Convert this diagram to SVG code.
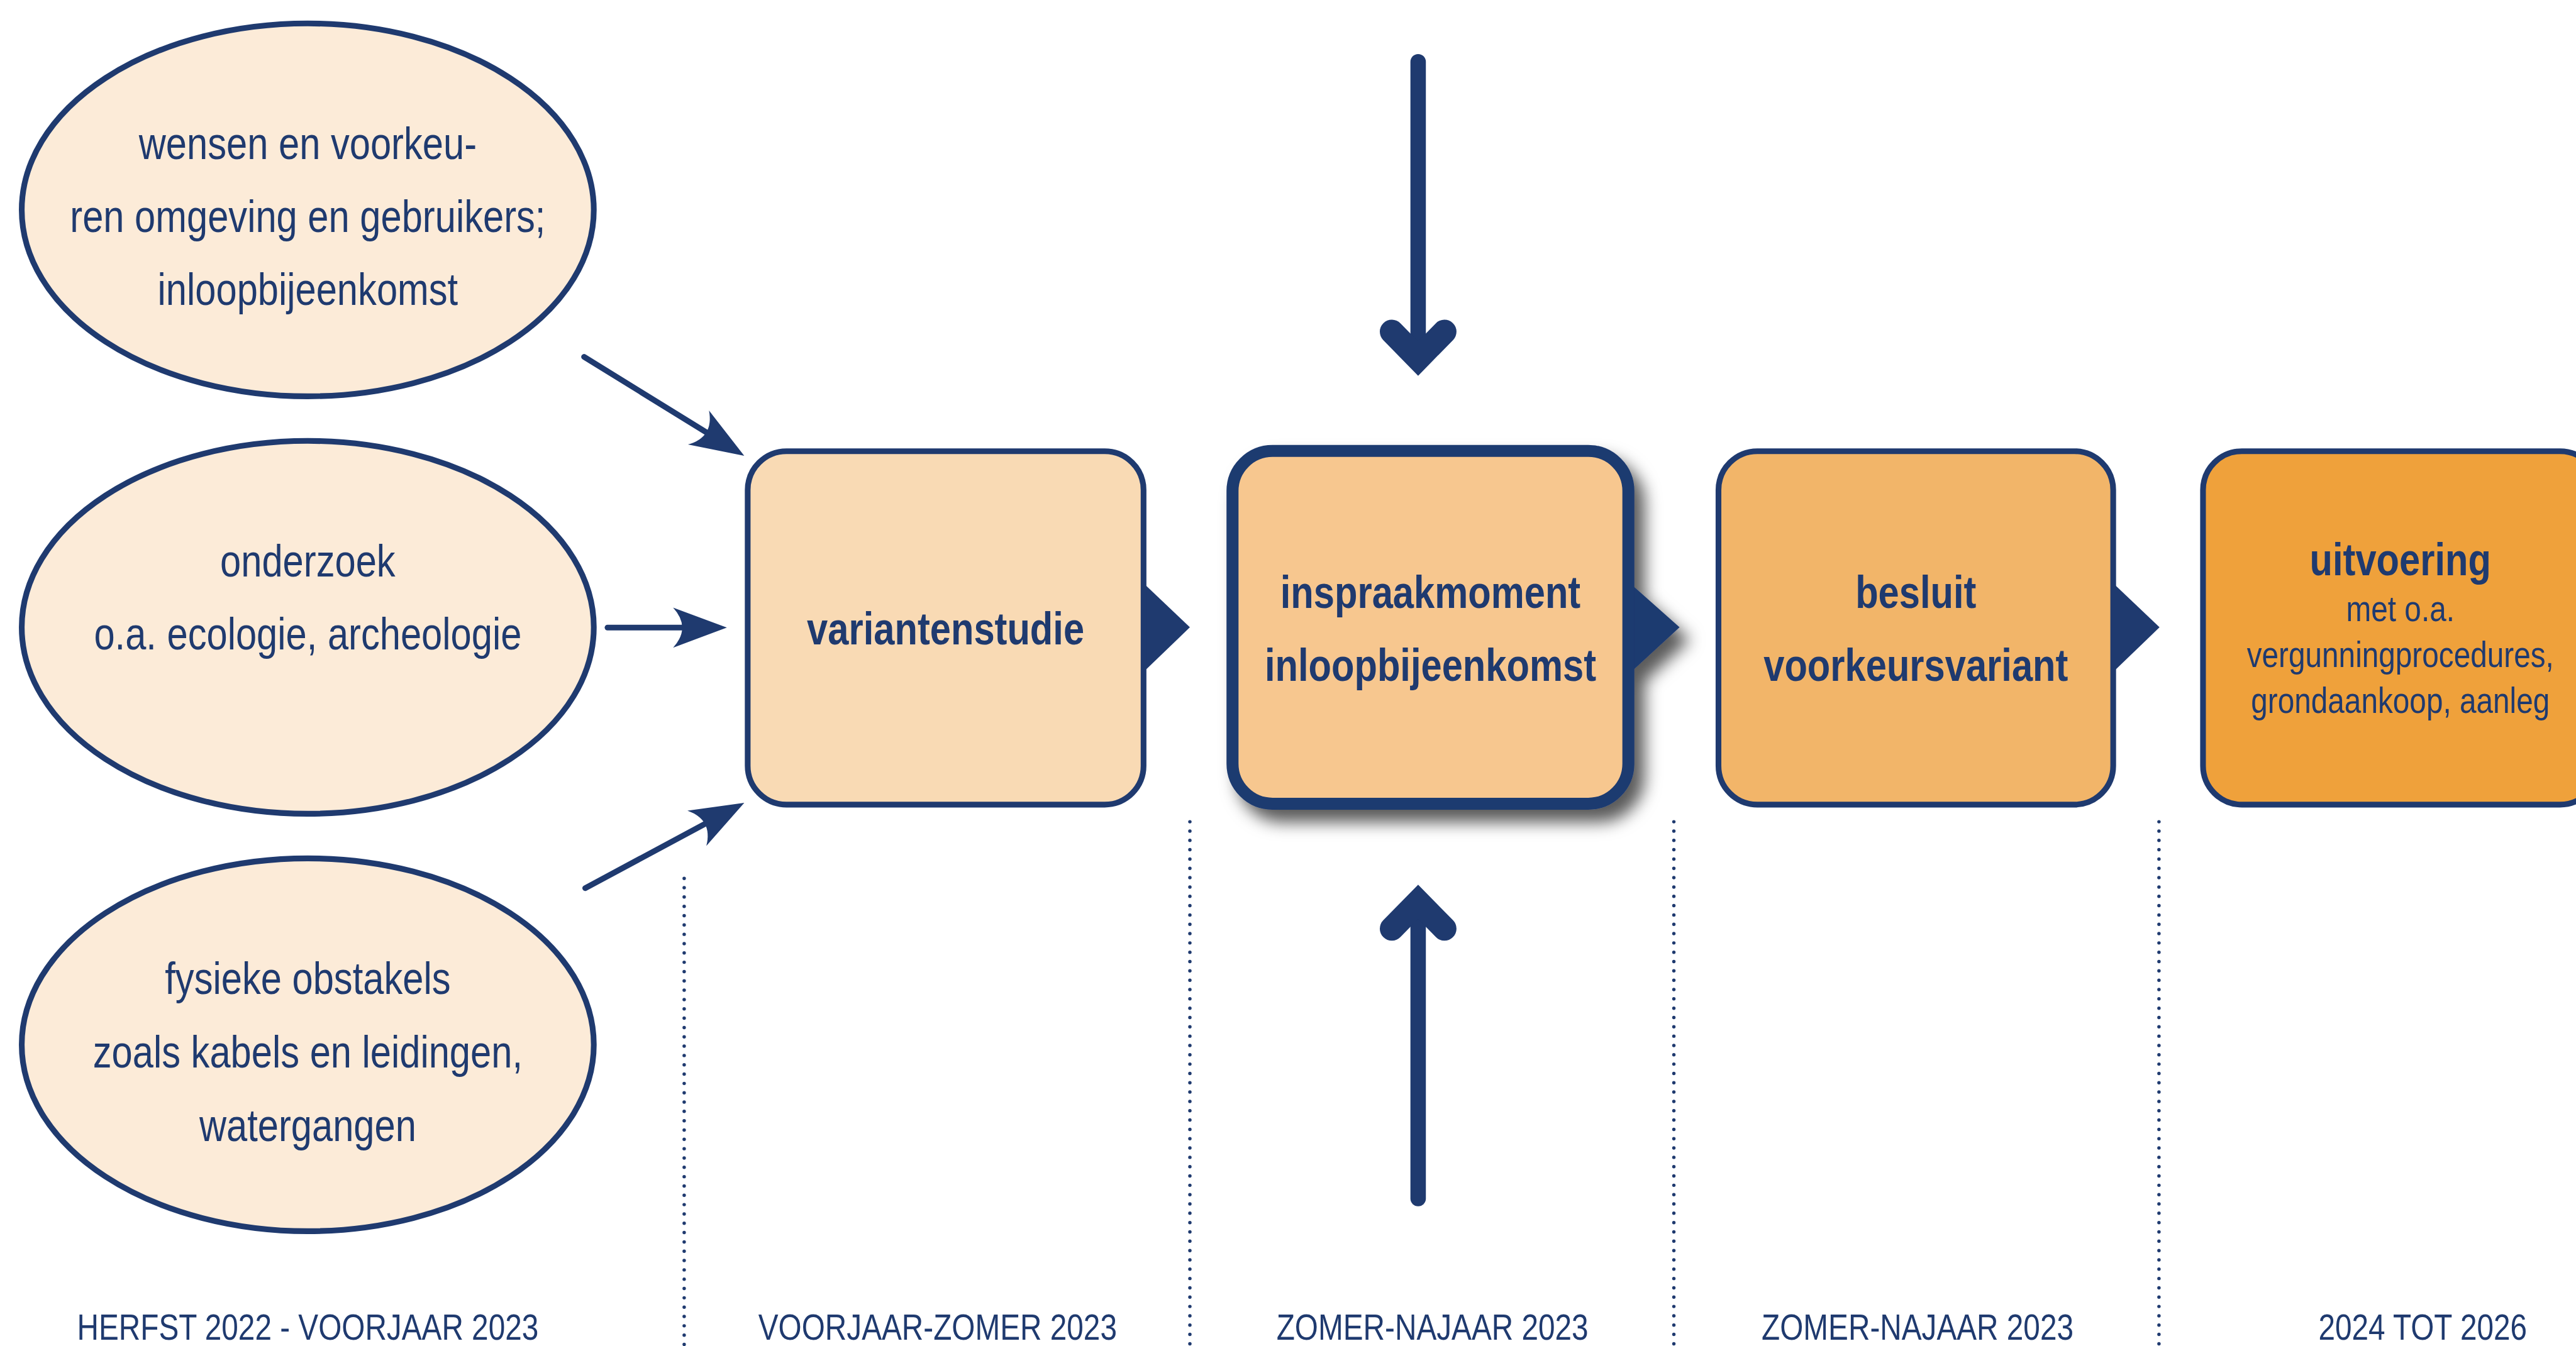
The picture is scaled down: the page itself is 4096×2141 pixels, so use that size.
<svg xmlns="http://www.w3.org/2000/svg" width="4096" height="2141" viewBox="0 0 4096 2141">
<defs>
<style>
.ell{fill:#FCEBD8;stroke:#1F3A6F;stroke-width:10}
.box{stroke:#1F3A6F;stroke-width:10}
.t{font-family:"Liberation Sans",Arial,sans-serif;fill:#1F3A6F;text-anchor:middle}
.r80{font-size:80px}
.b80{font-size:80px;font-weight:bold}
.r64{font-size:64px}
.ln{fill:none;stroke:#1F3A6F;stroke-width:10;stroke-linecap:round}
.dot{fill:none;stroke:#1F3A6F;stroke-width:6;stroke-linecap:round;stroke-dasharray:0 16.3}
.tri{fill:#1F3A6F}
.shaft{fill:none;stroke:#1F3A6F;stroke-width:27;stroke-linecap:round}
.chev{fill:none;stroke:#1F3A6F;stroke-width:42;stroke-linecap:round;stroke-linejoin:miter;stroke-miterlimit:10}
</style>
<marker id="ah" markerUnits="userSpaceOnUse" orient="auto" refX="0" refY="0" markerWidth="120" markerHeight="90" overflow="visible">
<path d="M78,0 L-16,-35 Q16,0 -16,35 Z" fill="#1F3A6F"/>
</marker>
<filter id="sh" x="-20%" y="-20%" width="150%" height="150%">
<feDropShadow dx="18" dy="22" stdDeviation="14" flood-color="#000" flood-opacity="0.65"/>
</filter>
</defs>
<rect width="4096" height="2141" fill="#FFFFFF"/>
<g transform="scale(0.909616)">

<g id="dividers">
<line class="dot" x1="1196" y1="1536" x2="1196" y2="2354"/>
<line class="dot" x1="2080" y1="1437" x2="2080" y2="2354"/>
<line class="dot" x1="2926" y1="1437" x2="2926" y2="2354"/>
<line class="dot" x1="3774" y1="1437" x2="3774" y2="2354"/>
</g>

<g id="node-wensen">
<ellipse class="ell" cx="538" cy="367" rx="500" ry="326"/>
<text class="t r80" transform="translate(538,278) scale(0.82,1)">wensen en voorkeu-</text>
<text class="t r80" transform="translate(538,406) scale(0.82,1)">ren omgeving en gebruikers;</text>
<text class="t r80" transform="translate(538,533) scale(0.82,1)">inloopbijeenkomst</text>
</g>

<g id="node-onderzoek">
<ellipse class="ell" cx="538" cy="1097" rx="500" ry="326"/>
<text class="t r80" transform="translate(538,1008) scale(0.82,1)">onderzoek</text>
<text class="t r80" transform="translate(538,1136) scale(0.82,1)">o.a. ecologie, archeologie</text>
</g>

<g id="node-obstakels">
<ellipse class="ell" cx="538" cy="1827" rx="500" ry="326"/>
<text class="t r80" transform="translate(538,1738) scale(0.82,1)">fysieke obstakels</text>
<text class="t r80" transform="translate(538,1867) scale(0.82,1)">zoals kabels en leidingen,</text>
<text class="t r80" transform="translate(538,1995) scale(0.82,1)">watergangen</text>
</g>

<g id="node-variantenstudie">
<polygon class="tri" points="1999,1020 2080,1097 1999,1175"/>
<rect class="box" x="1307" y="789" width="692" height="618" rx="68" ry="68" fill="#F9DAB4"/>
<text class="t b80" transform="translate(1653,1127) scale(0.82,1)">variantenstudie</text>
</g>

<g id="node-inspraakmoment">
<g filter="url(#sh)">
<polygon class="tri" points="2846,1017 2936,1097 2846,1180"/>
<rect x="2154.5" y="788.5" width="692" height="617" rx="70" ry="70" fill="#F7C78F" stroke="#1F3A6F" stroke-width="21"/>
</g>
<text class="t b80" transform="translate(2500.5,1063) scale(0.82,1)">inspraakmoment</text>
<text class="t b80" transform="translate(2500.5,1190.5) scale(0.82,1)">inloopbijeenkomst</text>
</g>

<g id="node-besluit">
<polygon class="tri" points="3694,1020 3775,1097 3694,1175"/>
<rect class="box" x="3004" y="789" width="690" height="618" rx="68" ry="68" fill="#F2B569"/>
<text class="t b80" transform="translate(3349,1063) scale(0.82,1)">besluit</text>
<text class="t b80" transform="translate(3349,1190.5) scale(0.82,1)">voorkeursvariant</text>
</g>

<g id="node-uitvoering">
<rect class="box" x="3851" y="789" width="692" height="618" rx="68" ry="68" fill="#EFA13B"/>
<text class="t b80" transform="translate(4196,1006) scale(0.82,1)">uitvoering</text>
<text class="t r64" transform="translate(4196,1086) scale(0.82,1)">met o.a.</text>
<text class="t r64" transform="translate(4196,1166) scale(0.82,1)">vergunningprocedures,</text>
<text class="t r64" transform="translate(4196,1247) scale(0.82,1)">grondaankoop, aanleg</text>
</g>

<g id="connectors">
<line class="ln" x1="1021" y1="624" x2="1234.6" y2="756" marker-end="url(#ah)"/>
<line class="ln" x1="1062" y1="1097.5" x2="1192.6" y2="1097.5" marker-end="url(#ah)"/>
<line class="ln" x1="1023" y1="1553" x2="1232.3" y2="1440.8" marker-end="url(#ah)"/>
<g id="arrow-down">
<line class="shaft" x1="2479" y1="108" x2="2479" y2="620"/>
<polyline class="chev" points="2433,580 2479,627 2525,580"/>
</g>
<g id="arrow-up">
<line class="shaft" x1="2479" y1="2096" x2="2479" y2="1585"/>
<polyline class="chev" points="2433,1624 2479,1577 2525,1624"/>
</g>
</g>

<g id="period-labels">
<text class="t r64" transform="translate(538,2343) scale(0.82,1)">HERFST 2022 - VOORJAAR 2023</text>
<text class="t r64" transform="translate(1639,2343) scale(0.82,1)">VOORJAAR-ZOMER 2023</text>
<text class="t r64" transform="translate(2504,2343) scale(0.82,1)">ZOMER-NAJAAR 2023</text>
<text class="t r64" transform="translate(3352,2343) scale(0.82,1)">ZOMER-NAJAAR 2023</text>
<text class="t r64" transform="translate(4235,2343) scale(0.82,1)">2024 TOT 2026</text>
</g>

</g>
</svg>
